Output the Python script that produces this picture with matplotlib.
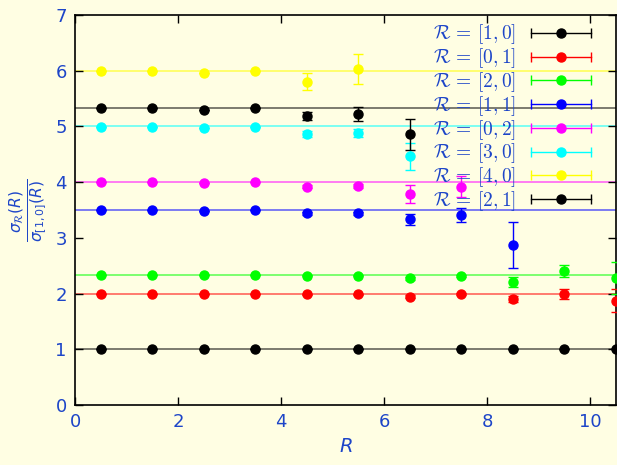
import matplotlib
matplotlib.use("Agg")
import matplotlib.pyplot as plt
import numpy as np
from matplotlib.font_manager import FontProperties
from matplotlib.legend_handler import HandlerBase
from matplotlib.lines import Line2D

# data: ratio sigma_R(R) / sigma_[1,0](R) vs R
R = [0.5, 1.5, 2.5, 3.5, 4.5, 5.5, 6.5, 7.5, 8.5, 9.5, 10.5]
nan = np.nan

labels = ["[1,0]", "[0,1]", "[2,0]", "[1,1]", "[0,2]", "[3,0]", "[4,0]", "[2,1]"]
colors = ["#000000", "#ff0000", "#00ff00", "#0000ff", "#ff00ff", "#00ffff", "#ffff00", "#000000"]
casimir = [1.0, 2.0, 2.333, 3.5, 4.0, 5.0, 6.0, 5.333]

r10 = [1.0, 1.0, 1.0, 1.0, 1.0, 1.0, 1.0, 1.0, 1.0, 1.0, 1.0]
r10_err = [0, 0, 0, 0, 0, 0, 0, 0, 0, 0, 0]
r01 = [2.00, 2.00, 2.00, 2.00, 1.99, 1.99, 1.945, 1.99, 1.90, 2.00, 1.87]
r01_err = [0, 0, 0, 0, 0.01, 0.01, 0.02, 0.02, 0.05, 0.09, 0.21]
r20 = [2.33, 2.33, 2.33, 2.33, 2.32, 2.32, 2.27, 2.32, 2.20, 2.41, 2.28]
r20_err = [0, 0, 0, 0, 0.01, 0.01, 0.02, 0.02, 0.09, 0.11, 0.29]
r11 = [3.50, 3.50, 3.49, 3.50, 3.44, 3.44, 3.33, 3.41, 2.87, nan, nan]
r11_err = [0, 0, 0, 0, 0.03, 0.03, 0.10, 0.13, 0.41, nan, nan]
r02 = [4.00, 4.00, 3.98, 4.00, 3.92, 3.93, 3.78, 3.92, nan, nan, nan]
r02_err = [0, 0, 0, 0, 0.03, 0.04, 0.16, 0.19, nan, nan, nan]
r30 = [4.99, 4.99, 4.97, 4.99, 4.86, 4.88, 4.46, nan, nan, nan, nan]
r30_err = [0, 0, 0, 0, 0.05, 0.07, 0.25, nan, nan, nan, nan]
r40 = [6.00, 6.00, 5.95, 6.00, 5.80, 6.03, nan, nan, nan, nan, nan]
r40_err = [0, 0, 0, 0, 0.15, 0.27, nan, nan, nan, nan, nan]
r21 = [5.33, 5.33, 5.30, 5.33, 5.18, 5.22, 4.86, nan, nan, nan, nan]
r21_err = [0, 0, 0, 0, 0.07, 0.12, 0.28, nan, nan, nan, nan]

series = [(r10, r10_err), (r01, r01_err), (r20, r20_err), (r11, r11_err),
          (r02, r02_err), (r30, r30_err), (r40, r40_err), (r21, r21_err)]

bg = "#fffee3"
txt = "#1d45c8"


class GnuplotHandler(HandlerBase):
    """legend key like gnuplot: horizontal bar with caps and a dot"""
    def create_artists(self, legend, orig_handle, xdescent, ydescent,
                       width, height, fontsize, trans):
        c = orig_handle.get_color()
        y = height / 2 - ydescent
        x0, x1 = -xdescent, -xdescent + width
        bar = Line2D([x0, x1], [y, y], color=c, lw=1.0, marker="|",
                     ms=7, mew=1.0, transform=trans)
        dot = Line2D([(x0 + x1) / 2], [y], color=c, marker="o", ms=6.5,
                     ls="none", transform=trans)
        return [bar, dot]


fig = plt.figure(figsize=(6.17, 4.65), dpi=100, facecolor=bg)
ax = fig.add_axes([0.1216, 0.129, 0.8768, 0.839])
ax.set_facecolor(bg)

handles = []
for (y, e), c, lab, cs in zip(series, colors, labels, casimir):
    ax.axhline(cs, color=c, lw=1.2, alpha=0.6, zorder=1)
    ax.errorbar(R, y, yerr=e, fmt="o", color=c, ms=6.5, elinewidth=1.0,
                capsize=3.5, capthick=1.0, zorder=3)
    handles.append(Line2D([], [], color=c, label=r"$\mathcal{R}\,=\,%s$" % lab))

ax.set_xlim(0, 10.5)
ax.set_ylim(0, 7)
ax.set_xticks([0, 2, 4, 6, 8, 10])
ax.set_yticks(range(8))
ax.tick_params(direction="in", top=True, right=True, length=6, width=1,
               labelsize=13, labelcolor=txt, pad=6)
for s in ax.spines.values():
    s.set_linewidth(1.2)

ax.set_xlabel("$R$", fontsize=14, color=txt, labelpad=4)
ax.set_ylabel(r"$\frac{\sigma_{\mathcal{R}}(R)}{\sigma_{[1,0]}(R)}$",
              fontsize=16, color=txt, labelpad=4)

leg = ax.legend(handles=handles, handler_map={Line2D: GnuplotHandler()},
                loc="upper right", bbox_to_anchor=(0.954, 0.98),
                frameon=False, markerfirst=False, borderpad=0, borderaxespad=0,
                handlelength=3.1, handletextpad=0.75, labelspacing=0.0,
                prop=FontProperties(size=14, math_fontfamily="cm"))
for t in leg.get_texts():
    t.set_color(txt)
    t.set_ha("right")

fig.savefig("out.png", dpi=100, facecolor=bg)
